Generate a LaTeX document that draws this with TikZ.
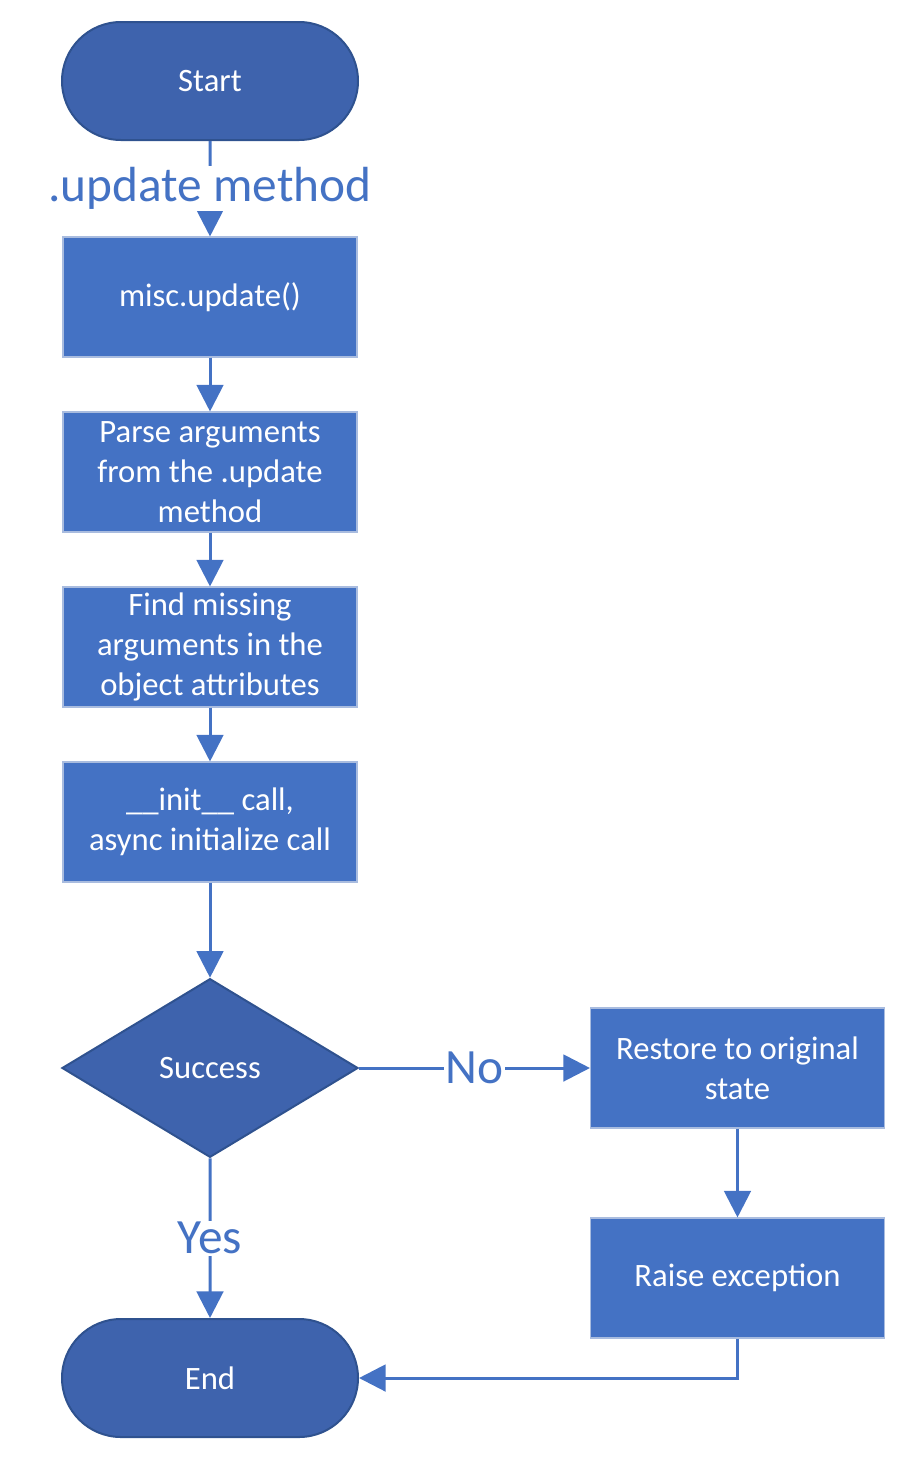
\documentclass[tikz,border=0pt]{standalone}
\usepackage{fontspec}
\setmainfont{Carlito}
\usetikzlibrary{shapes.geometric,shapes.misc,arrows.meta}
\definecolor{boxblue}{HTML}{4472C4}
\definecolor{darkfill}{HTML}{3E63AD}
\definecolor{darkline}{HTML}{2F528F}
\definecolor{boxedge}{HTML}{A9BCDF}
\definecolor{lineblue}{HTML}{4472C4}
\begin{document}
\begin{tikzpicture}[x=0.75pt,y=-0.75pt,
  procbox/.style={rectangle,fill=boxblue,draw=boxedge,line width=0.8pt,minimum width=220.5pt,minimum height=90pt,inner sep=2pt,text=white,align=center,font=\fontsize{24.5}{30}\selectfont},
  termbox/.style={rounded rectangle,fill=darkfill,draw=darkline,line width=1.5pt,minimum width=222pt,minimum height=88.5pt,inner sep=0pt,text=white,font=\fontsize{24.5}{30}\selectfont},
  decbox/.style={diamond,fill=darkfill,draw=darkline,line width=1.5pt,minimum width=222pt,minimum height=134pt,inner sep=0pt,text=white,font=\fontsize{24.5}{30}\selectfont},
  flow/.style={draw=lineblue,line width=2.25pt,-{Triangle[length=20pt,width=20pt]}},
  lbl/.style={fill=white,inner sep=1pt,text=lineblue,font=\fontsize{37}{44}\selectfont}]
\useasboundingbox (0,0) rectangle (908,1461);
\node[termbox] (start) at (210,81) {Start};
\node[procbox] (b1) at (210,297) {misc.update()};
\node[procbox] (b2) at (210,472) {Parse arguments\\from the .update\\method};
\node[procbox] (b3) at (210,647) {Find missing\\arguments in the\\object attributes};
\node[procbox] (b4) at (210,822) {\_\_init\_\_ call,\\async initialize call};
\node[decbox] (dec) at (210,1068) {Success};
\node[procbox] (r1) at (737.5,1068) {Restore to original\\state};
\node[procbox] (r2) at (737.5,1278) {Raise exception};
\node[termbox] (end) at (210,1378) {End};
\draw[flow] (start) -- node[lbl] {.update method} (b1);
\draw[flow] (b1) -- (b2);
\draw[flow] (b2) -- (b3);
\draw[flow] (b3) -- (b4);
\draw[flow] (b4) -- (dec);
\draw[flow] (dec) -- node[lbl] {No} (r1);
\draw[flow] (dec) -- node[lbl] {Yes} (end);
\draw[flow] (r1) -- (r2);
\draw[flow] (r2.south) |- (end.east);
\end{tikzpicture}
\end{document}
